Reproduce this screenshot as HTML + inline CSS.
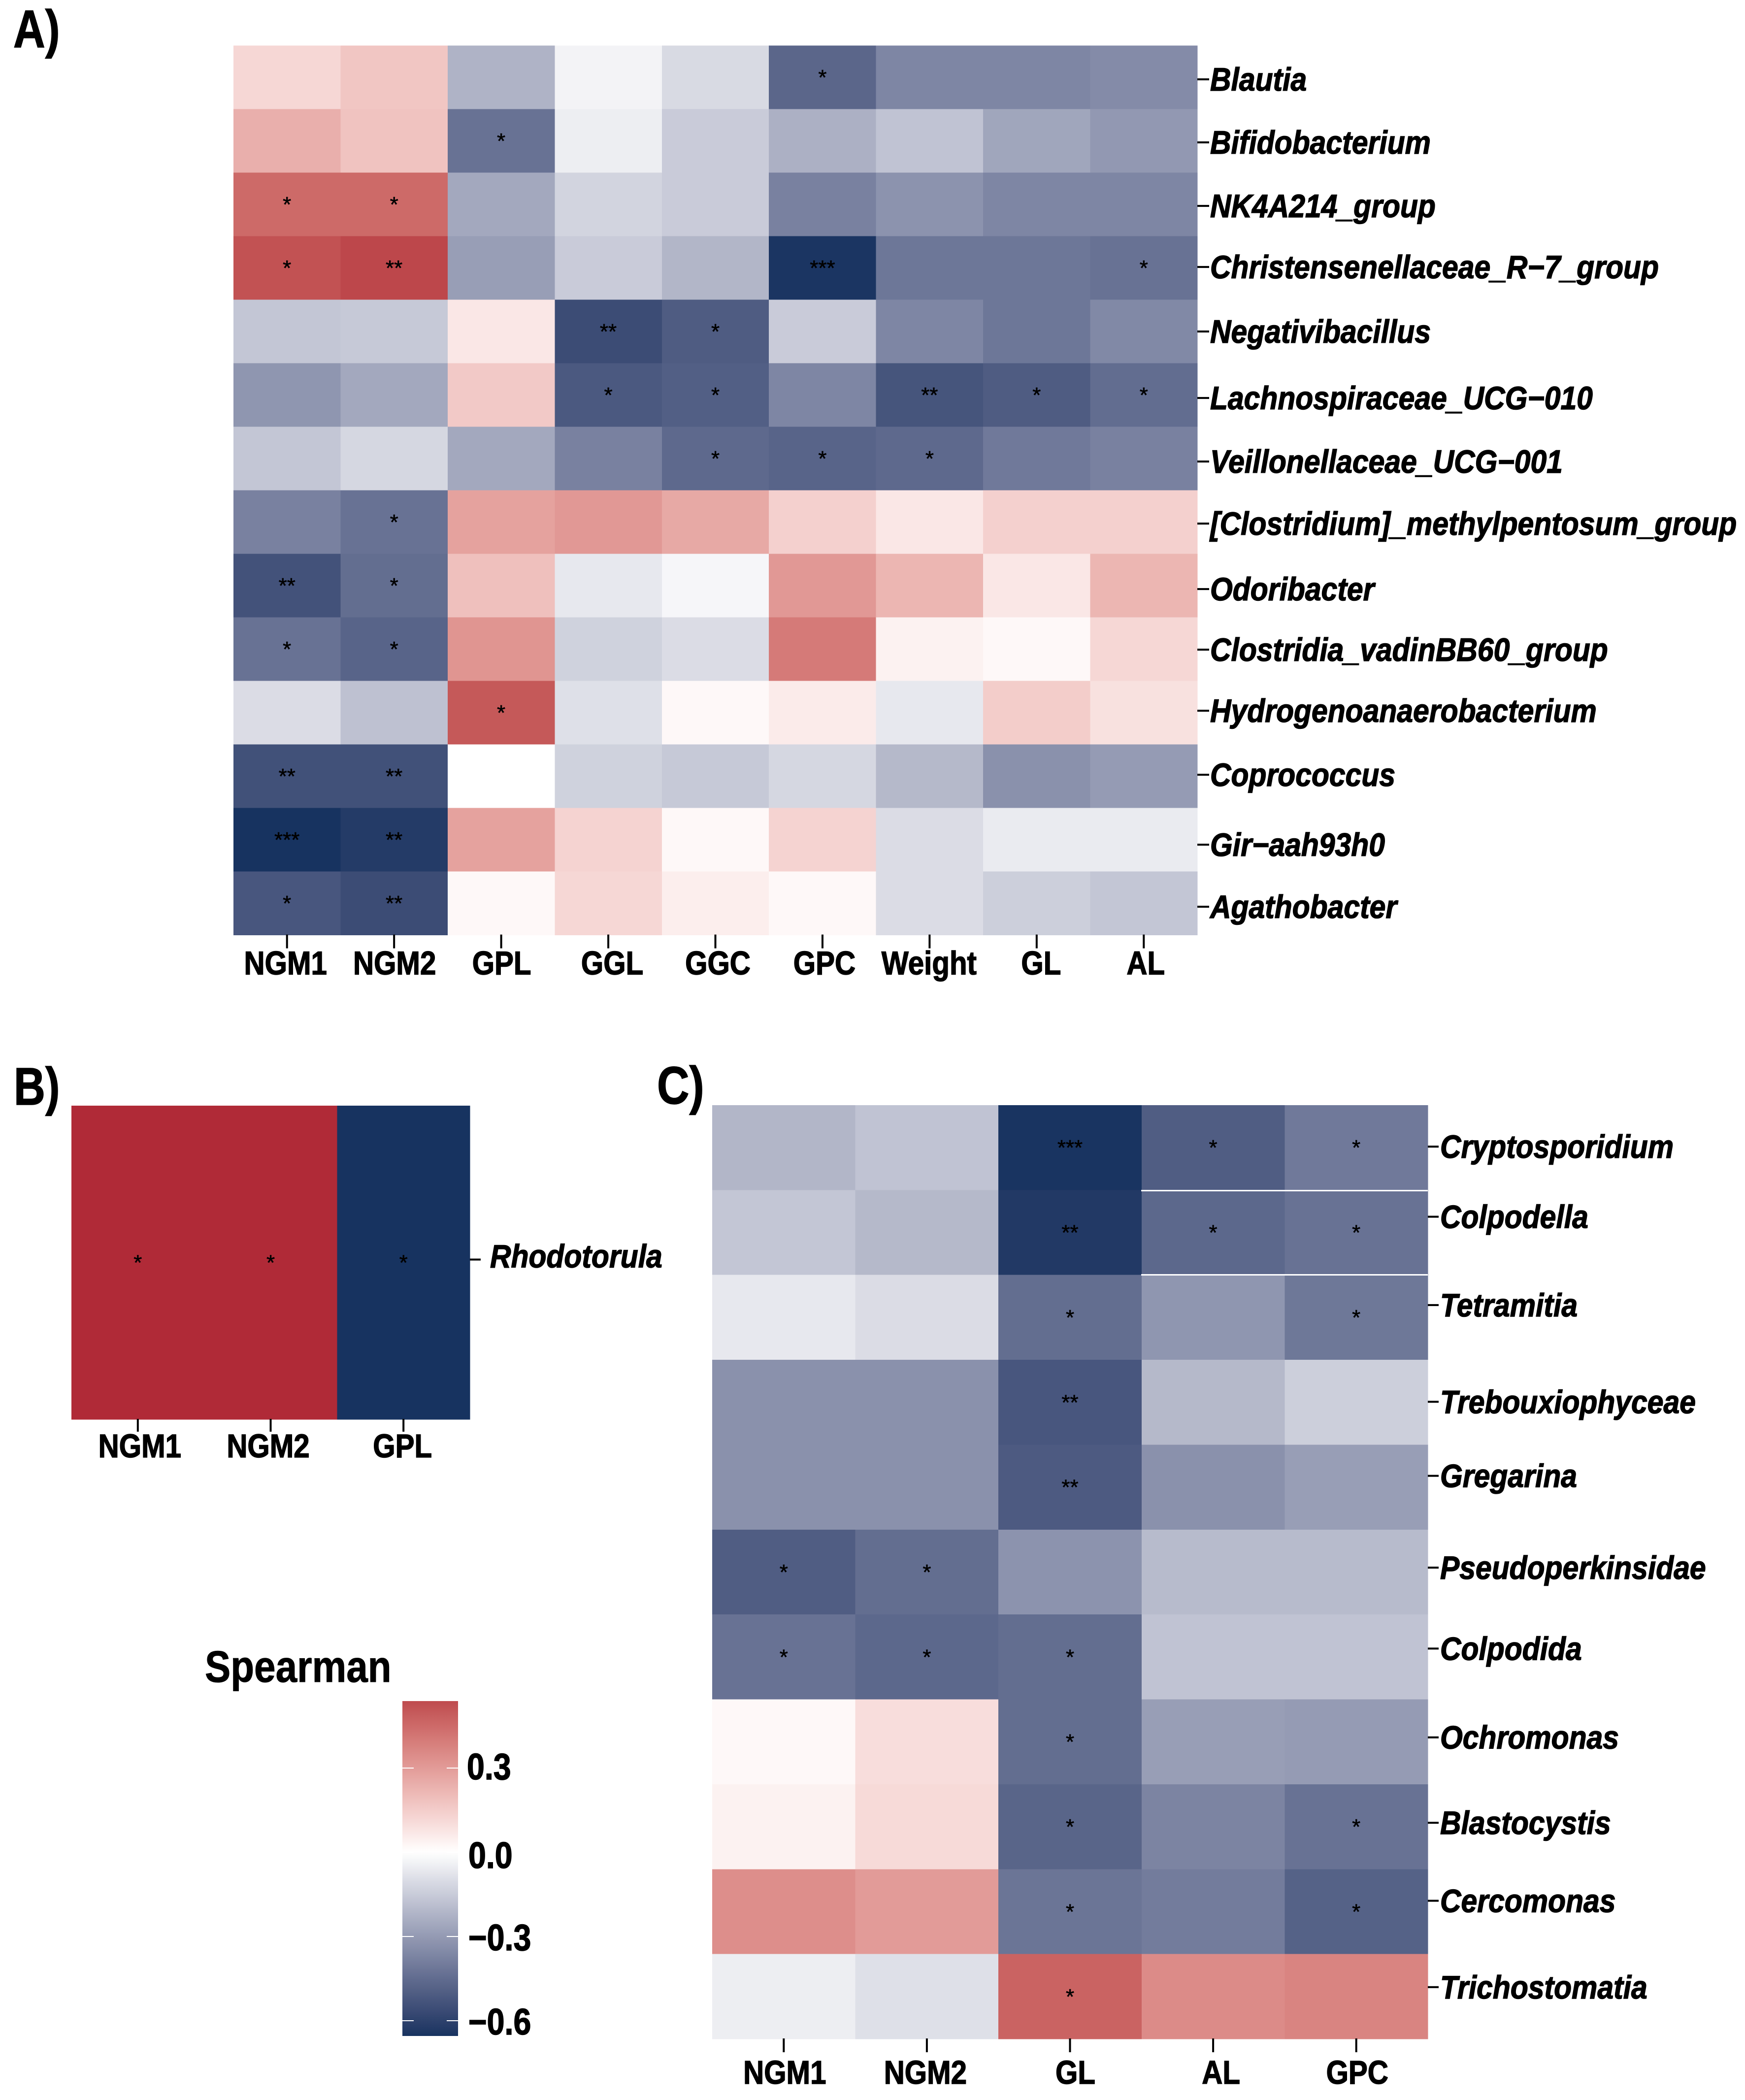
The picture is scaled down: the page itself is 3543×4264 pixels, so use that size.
<!DOCTYPE html>
<html lang="en">
<head>
<meta charset="utf-8">
<title>Spearman correlation heatmaps</title>
<style>
html,body{margin:0;padding:0;background:#fff;}
svg{display:block;}
text{font-family:"Liberation Sans",sans-serif;fill:#000;}
.panel-tag{font-weight:700;font-size:108px;stroke:#000;stroke-width:1.5px;}
.x-label{font-weight:700;font-size:67px;stroke:#000;stroke-width:1.5px;}
.y-label{font-weight:700;font-style:italic;font-size:66px;stroke:#000;stroke-width:1.5px;}
.star{font-size:44px;font-weight:400;text-anchor:middle;stroke:#000;stroke-width:.6px;}
.legend-title{font-weight:700;font-size:90px;stroke:#000;stroke-width:1px;}
.legend-label{font-weight:700;font-size:75px;stroke:#000;stroke-width:1.5px;}
</style>
</head>
<body>
<svg id="fig" xmlns="http://www.w3.org/2000/svg" width="3543" height="4264" viewBox="0 0 3543 4264">
  <defs>
    <linearGradient id="legendGradient" x1="0" y1="0" x2="0" y2="1"></linearGradient>
  </defs>
  <rect width="3543" height="4264" fill="#ffffff"></rect>
  <text class="panel-tag" transform="translate(27,96) scale(.83,1)">A)</text>
  <text class="panel-tag" transform="translate(28,2243) scale(.82,1)">B)</text>
  <text class="panel-tag" transform="translate(1334,2241) scale(.84,1)">C)</text>
  <text class="legend-title" transform="translate(416,3415) scale(.87,1)">Spearman</text>
  <g id="panelA"></g>
  <g id="panelB"></g>
  <g id="panelC"></g>
  <rect x="2317" y="2416" width="582" height="3" fill="#ffffff"></rect>
  <rect x="2317" y="2587" width="582" height="3" fill="#ffffff"></rect>
  <g id="legend"></g>
</svg>
<script>
// ---------- Panel A data ----------
const columnsA = ["NGM1","NGM2","GPL","GGL","GGC","GPC","Weight","GL","AL"];
const taxaA = ["Blautia","Bifidobacterium","NK4A214_group","Christensenellaceae_R\u22127_group","Negativibacillus","Lachnospiraceae_UCG\u2212010","Veillonellaceae_UCG\u2212001","[Clostridium]_methylpentosum_group","Odoribacter","Clostridia_vadinBB60_group","Hydrogenoanaerobacterium","Coprococcus","Gir\u2212aah93h0","Agathobacter"];
const valuesA = [
  [0.12,0.17,-0.224,-0.033,-0.108,-0.47,-0.364,-0.364,-0.348],
  [0.24,0.18,-0.43,-0.05,-0.15,-0.232,-0.174,-0.265,-0.306],
  [0.45,0.45,-0.257,-0.124,-0.15,-0.38,-0.323,-0.364,-0.364],
  [0.52,0.55,-0.29,-0.15,-0.215,-0.645,-0.414,-0.414,-0.43],
  [-0.165,-0.157,0.07,-0.56,-0.505,-0.15,-0.364,-0.414,-0.356],
  [-0.315,-0.257,0.16,-0.515,-0.495,-0.364,-0.53,-0.505,-0.447],
  [-0.165,-0.116,-0.257,-0.38,-0.46,-0.478,-0.46,-0.406,-0.38],
  [-0.38,-0.43,0.28,0.31,0.26,0.14,0.07,0.14,0.14],
  [-0.54,-0.445,0.19,-0.066,-0.025,0.31,0.22,0.07,0.22],
  [-0.43,-0.478,0.32,-0.132,-0.1,0.40,0.04,0.02,0.12],
  [-0.1,-0.18,0.50,-0.09,0.02,0.06,-0.066,0.15,0.09],
  [-0.545,-0.545,0,-0.132,-0.157,-0.116,-0.207,-0.331,-0.298],
  [-0.654,-0.625,0.28,0.13,0.02,0.13,-0.1,-0.058,-0.058],
  [-0.525,-0.56,0.02,0.12,0.05,0.02,-0.1,-0.14,-0.165]
];
const starsA = [
  [0,0,0,0,0,1,0,0,0],
  [0,0,1,0,0,0,0,0,0],
  [1,1,0,0,0,0,0,0,0],
  [1,2,0,0,0,3,0,0,1],
  [0,0,0,2,1,0,0,0,0],
  [0,0,0,1,1,0,2,1,1],
  [0,0,0,0,1,1,1,0,0],
  [0,1,0,0,0,0,0,0,0],
  [2,1,0,0,0,0,0,0,0],
  [1,1,0,0,0,0,0,0,0],
  [0,0,1,0,0,0,0,0,0],
  [2,2,0,0,0,0,0,0,0],
  [3,2,0,0,0,0,0,0,0],
  [1,2,0,0,0,0,0,0,0]
];

// ---------- Panel B data ----------
const columnsB = ["NGM1","NGM2","GPL"];
const taxaB = ["Rhodotorula"];
const valuesB = [[0.62,0.62,-0.654]];
const starsB = [[1,1,1]];

// ---------- Panel C data ----------
const columnsC = ["NGM1","NGM2","GL","AL","GPC"];
const taxaC = ["Cryptosporidium","Colpodella","Tetramitia","Trebouxiophyceae","Gregarina","Pseudoperkinsidae","Colpodida","Ochromonas","Blastocystis","Cercomonas","Trichostomatia"];
const valuesC = [
  [-0.215,-0.174,-0.65,-0.5,-0.406],
  [-0.165,-0.207,-0.63,-0.465,-0.43],
  [-0.066,-0.1,-0.445,-0.315,-0.412],
  [-0.331,-0.331,-0.525,-0.207,-0.14],
  [-0.331,-0.331,-0.51,-0.331,-0.29],
  [-0.5,-0.445,-0.323,-0.2,-0.2],
  [-0.43,-0.465,-0.445,-0.174,-0.174],
  [0.02,0.10,-0.445,-0.29,-0.298],
  [0.04,0.11,-0.475,-0.372,-0.43],
  [0.34,0.30,-0.42,-0.397,-0.485],
  [-0.05,-0.09,0.47,0.35,0.37]
];
const starsC = [
  [0,0,3,1,1],
  [0,0,2,1,1],
  [0,0,1,0,1],
  [0,0,2,0,0],
  [0,0,2,0,0],
  [1,1,0,0,0],
  [1,1,1,0,0],
  [0,0,1,0,0],
  [0,0,1,0,1],
  [0,0,1,0,1],
  [0,0,1,0,0]
];

// ---------- Legend data ----------
const legendTicks = [0.3,0,-0.3,-0.6];
const legendTickLabels = ["0.3","0.0","\u22120.3","\u22120.6"];

// ---------- Hand-placed label offsets in the original figure (text only) ----------
const rowLabelNudgeA = [0,-1,-1,-6,-4,2,2,-1,3,-3,-8,-7,6,3];
const rowLabelNudgeB = [-17];
const rowLabelNudgeC = [-6,-36,-29,-5,-27,-13,-21,-13,-12,-26,-23];
const colLabelNudgeA = [-3,1,1,8,5,4,-1,9,4];
const colLabelNudgeB = [4,-5,-2];
const colLabelNudgeC = [2,-3,11,16,2];

// ---------- Colour scale (Lab interpolation, white midpoint) ----------
const SCALE_LOW = {value:-0.654, hex:"#173360"};
const SCALE_HIGH = {value:0.62, hex:"#b02a37"};

function hexToRgb(h){return [1,3,5].map(function(i){return parseInt(h.substr(i,2),16);});}
function rgbToLab(c){
  var r=c.map(function(v){v/=255;return v<=0.04045?v/12.92:Math.pow((v+0.055)/1.055,2.4);});
  var x=(0.4124*r[0]+0.3576*r[1]+0.1805*r[2])/0.95047;
  var y=0.2126*r[0]+0.7152*r[1]+0.0722*r[2];
  var z=(0.0193*r[0]+0.1192*r[1]+0.9505*r[2])/1.08883;
  var f=function(t){return t>0.008856?Math.cbrt(t):7.787*t+16/116;};
  return [116*f(y)-16,500*(f(x)-f(y)),200*(f(y)-f(z))];
}
function labToCss(l){
  var fy=(l[0]+16)/116,fx=l[1]/500+fy,fz=fy-l[2]/200;
  var g=function(t){return t*t*t>0.008856?t*t*t:(t-16/116)/7.787;};
  var x=g(fx)*0.95047,y=g(fy),z=g(fz)*1.08883;
  var lin=[3.2406*x-1.5372*y-0.4986*z,-0.9689*x+1.8758*y+0.0415*z,0.0557*x-0.2040*y+1.0570*z];
  var out=lin.map(function(v){
    v=Math.max(0,Math.min(1,v));
    v=v<=0.0031308?12.92*v:1.055*Math.pow(v,1/2.4)-0.055;
    return Math.round(v*255);
  });
  return "rgb("+out.join(",")+")";
}
var labWhite=rgbToLab([255,255,255]);
var labLow=rgbToLab(hexToRgb(SCALE_LOW.hex));
var labHigh=rgbToLab(hexToRgb(SCALE_HIGH.hex));
function colorFor(v){
  var end=v<0?labLow:labHigh;
  var t=v<0?v/SCALE_LOW.value:v/SCALE_HIGH.value;
  t=Math.max(0,Math.min(1,t));
  return labToCss([0,1,2].map(function(i){return labWhite[i]+(end[i]-labWhite[i])*t;}));
}

// ---------- Drawing helpers ----------
var NS="http://www.w3.org/2000/svg";
function make(parent,tag,props){
  var e=document.createElementNS(NS,tag);
  for(var k in props){e.setAttribute(k,props[k]);}
  parent.appendChild(e);
  return e;
}
function bandScale(start,end,count){
  var step=(end-start)/count;
  return {step:step,at:function(i){return start+i*step;},mid:function(i){return start+(i+0.5)*step;}};
}
var TEXT_SQUEEZE_Y=0.892;
var TEXT_SQUEEZE_X=0.87;

function drawHeatmap(o){
  var g=o.root;
  var xs=bandScale(o.left,o.right,o.columns.length);
  var ys=bandScale(o.top,o.bottom,o.taxa.length);
  o.values.forEach(function(row,r){
    row.forEach(function(v,c){
      var cell=make(g,"rect",{x:xs.at(c),y:ys.at(r),width:xs.step+0.5,height:ys.step+0.5,fill:colorFor(v),"shape-rendering":"crispEdges"});
      
      
    });
  });
  o.stars.forEach(function(row,r){
    row.forEach(function(n,c){
      if(!n){return;}
      var s=make(g,"text",{"class":"star",x:xs.mid(c),y:ys.mid(r)+15});
      s.textContent="*".repeat(n);
      
      
    });
  });
  o.columns.forEach(function(name,c){
    var x=xs.mid(c);
    var t=make(g,"rect",{x:x-2,y:o.bottom-1,width:4,height:o.xTick,fill:"#000"});
    
    
    var l=make(g,"text",{"class":"x-label","text-anchor":"middle",transform:"translate("+(x+o.colNudge[c])+","+(o.bottom+o.xLabelDy)+") scale("+TEXT_SQUEEZE_X+",1)"});
    l.textContent=name;
    
    
  });
  o.taxa.forEach(function(name,r){
    var base=ys.mid(r)+27+o.rowNudge[r];
    var t=make(g,"rect",{x:o.right,y:base-o.yTickDy-2,width:o.yTick,height:4,fill:"#000"});
    
    
    var l=make(g,"text",{"class":"y-label",transform:"translate("+(o.right+o.yLabelDx)+","+base+") scale("+TEXT_SQUEEZE_Y+",1)"});
    l.textContent=name;
    
    
  });
}

drawHeatmap({root:document.getElementById("panelA"),key:"a",columns:columnsA,taxa:taxaA,values:valuesA,stars:starsA,
  left:474,right:2431,top:92.6,bottom:1898.6,xTick:28,xLabelDy:80,yTick:24,yLabelDx:26,yTickDy:23,
  rowNudge:rowLabelNudgeA,colNudge:colLabelNudgeA});
drawHeatmap({root:document.getElementById("panelB"),key:"b",columns:columnsB,taxa:taxaB,values:valuesB,stars:starsB,
  left:145,right:954,top:2245,bottom:2882,xTick:26,xLabelDy:77,yTick:22,yLabelDx:41,yTickDy:16,
  rowNudge:rowLabelNudgeB,colNudge:colLabelNudgeB});
drawHeatmap({root:document.getElementById("panelC"),key:"c",columns:columnsC,taxa:taxaC,values:valuesC,stars:starsC,
  left:1446,right:2899,top:2244,bottom:4140,xTick:28,xLabelDy:91,yTick:22,yLabelDx:25,yTickDy:23,
  rowNudge:rowLabelNudgeC,colNudge:colLabelNudgeC});

// ---------- Colour bar ----------
(function(){
  var root=document.getElementById("legend");
  var grad=document.getElementById("legendGradient");
  var barLeft=817,barRight=930,barTop=3454,barBottom=4134;
  var zeroY=3761,pxPerUnit=570;
  var yOf=function(v){return zeroY-v*pxPerUnit;};
  var valueTop=(zeroY-barTop)/pxPerUnit,valueBottom=(zeroY-barBottom)/pxPerUnit;
  for(var i=0;i<=60;i++){
    var f=i/60;
    var st=make(grad,"stop",{offset:f,"stop-color":colorFor(valueTop+(valueBottom-valueTop)*f)});
    
    
  }
  var bar=make(root,"rect",{x:barLeft,y:barTop,width:barRight-barLeft,height:barBottom-barTop,fill:"url(#legendGradient)"});
  
  
  var labelBaseDy=[23,32,28,28];
  legendTicks.forEach(function(v,i){
    var y=yOf(v);
    var t1=make(root,"rect",{x:barLeft,y:y-1,width:23,height:2,fill:"#fff"});
    
    
    var t2=make(root,"rect",{x:barRight-23,y:y-1,width:23,height:2,fill:"#fff"});
    
    
    var l=make(root,"text",{"class":"legend-label",transform:"translate("+(v===0.3?948:951)+","+(y+labelBaseDy[i])+") scale(.86,1)"});
    l.textContent=legendTickLabels[i];
    
    
  });
})();
</script>
</body>
</html>
